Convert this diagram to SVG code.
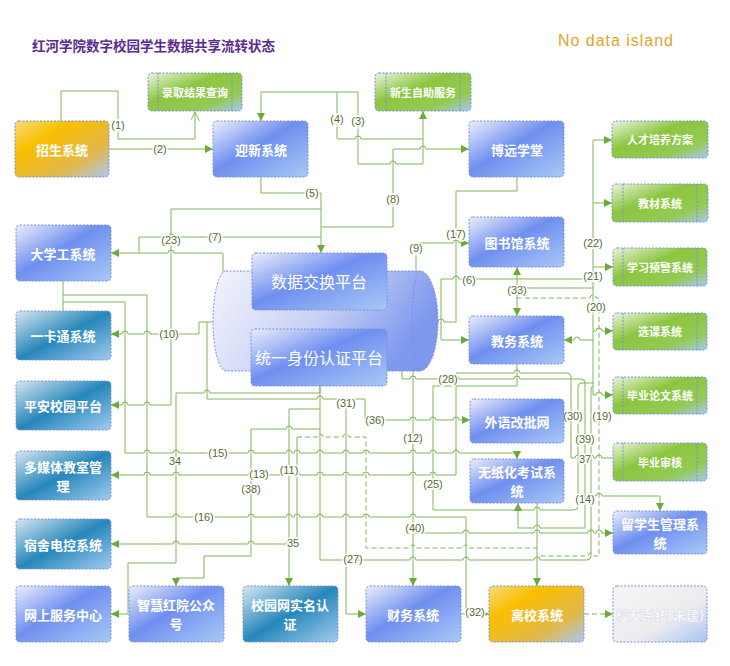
<svg xmlns="http://www.w3.org/2000/svg" width="730" height="666" viewBox="0 0 730 666">
<defs>
<linearGradient id="gBlue" x1="0" y1="0" x2="1" y2="1"><stop offset="0" stop-color="#eceefb"/><stop offset="0.45" stop-color="#6f8ff0"/><stop offset="1" stop-color="#a9c9f6"/></linearGradient>
<linearGradient id="gTeal" x1="0" y1="0" x2="1" y2="1"><stop offset="0" stop-color="#d6e7f1"/><stop offset="0.5" stop-color="#2687ba"/><stop offset="1" stop-color="#a2ccf0"/></linearGradient>
<linearGradient id="gYel" x1="0" y1="0" x2="1" y2="1"><stop offset="0" stop-color="#f6dc7a"/><stop offset="0.3" stop-color="#f9bf00"/><stop offset="0.7" stop-color="#e2b84a"/><stop offset="1" stop-color="#a8c8f0"/></linearGradient>
<linearGradient id="gGreen" x1="0" y1="0" x2="1" y2="1"><stop offset="0" stop-color="#eaf5de"/><stop offset="0.4" stop-color="#8cc63f"/><stop offset="0.75" stop-color="#92cb55"/><stop offset="1" stop-color="#a8c8f0"/></linearGradient>
<linearGradient id="gGrey" x1="0" y1="0" x2="1" y2="1"><stop offset="0" stop-color="#f6f6f6"/><stop offset="0.6" stop-color="#ececf0"/><stop offset="1" stop-color="#a8c4f4"/></linearGradient>
<linearGradient id="gCyl" x1="0" y1="0" x2="1" y2="0.3"><stop offset="0" stop-color="#f3f4fc"/><stop offset="0.55" stop-color="#c8d1f5"/><stop offset="1" stop-color="#7e98ee"/></linearGradient>
<marker id="a" viewBox="0 0 10 10" refX="10" refY="5" markerWidth="8" markerHeight="8" markerUnits="userSpaceOnUse" orient="auto-start-reverse"><path d="M0,0L10,5L0,10z" fill="#6aab3a"/></marker>
<marker id="o" viewBox="0 0 10 10" refX="10" refY="5" markerWidth="9" markerHeight="9" markerUnits="userSpaceOnUse" orient="auto"><path d="M0,0L10,5L0,10" fill="none" stroke="#82b55a" stroke-width="1"/></marker>
</defs>
<style>
.n{stroke:#7a8fd8;stroke-width:1;stroke-dasharray:2 1.5}
.il{stroke:#7a8fd8;stroke-width:1;stroke-dasharray:2 1.5;fill:none}
.t{fill:#fff;font-family:"Noto Sans CJK SC","Noto Sans",sans-serif;font-weight:bold;font-size:13px;text-anchor:middle;dominant-baseline:central}
.s{font-size:11px}
.big{font-size:16px;font-weight:normal}
.c{fill:none;stroke:#82b55a;stroke-width:1}
.d{fill:none;stroke:#82b55a;stroke-width:1;stroke-dasharray:5 3}
.ar{marker-end:url(#a)}
.l{fill:#556b2f;font-family:"Liberation Sans",Arial,sans-serif;font-size:11px;text-anchor:middle;dominant-baseline:central;stroke:#fff;stroke-width:3;paint-order:stroke}
</style>
<rect width="730" height="666" fill="#fff"/>
<text x="32" y="45" fill="#5b2c8f" font-family="Noto Sans CJK SC,sans-serif" font-weight="bold" font-size="13.5" dominant-baseline="central">红河学院数字校园学生数据共享流转状态</text>
<text x="558" y="40" fill="#e0a528" font-family="Liberation Sans,sans-serif" font-size="16" textLength="115" dominant-baseline="central">No data island</text>

<g id="connectors">
<path class="c" marker-end="url(#o)" d="M61,121V91H118V139H195V112"/>
<path class="c ar" d="M109,149H213"/>
<path class="c ar" d="M358,92V164H390a3,3 0 0 1 6,0H423V111"/>
<path class="c ar" d="M358,92H261V121"/>
<path class="c" d="M337,92V139H355a3,3 0 0 1 6,0H423"/>
<path class="c ar" d="M261,177V193H321V253"/>
<path class="c ar" d="M321,227H393V149H420a3,3 0 0 1 6,0H469"/>
<path class="c ar" d="M321,209H171V405H150a3,3 0 0 0 -6,0H128a3,3 0 0 0 -6,0H111"/>
<path class="c" d="M321,237H174a3,3 0 0 0 -6,0H139V253"/>
<path class="c ar" d="M251,357H223V253H174a3,3 0 0 0 -6,0H111"/>
<path class="c ar" d="M387,281H416V243H453a3,3 0 0 1 6,0H469"/>
<path class="c" d="M517,177V191H456V322H444a3,3 0 0 0 -6,0H427"/>
<path class="c ar" d="M593,279H459a3,3 0 0 0 -6,0H441V340H469"/>
<path class="c" d="M593,140V395"/>
<path class="c ar" d="M593,140H612"/>
<path class="c ar" d="M593,203H612"/>
<path class="c ar" d="M593,267H613"/>
<path class="c ar" d="M593,331H596a3,3 0 0 1 6,0H613"/>
<path class="c ar" d="M593,395H596a3,3 0 0 1 6,0H613"/>
<path class="c ar" d="M593,340H580a3,3 0 0 0 -6,0H564"/>
<path class="c ar" marker-start="url(#a)" d="M517,316V267"/>
<path class="c" d="M517,288H593"/>
<path class="d" d="M517,298H590a3,3 0 0 1 6,0H599V556H594a3,3 0 0 0 -6,0H537"/>
<path class="d" d="M297,437H317a3,3 0 0 1 6,0H343a3,3 0 0 1 6,0H366V548H410a3,3 0 0 1 6,0H463a3,3 0 0 1 6,0H537"/>
<path class="c ar" d="M213,322H199V334H174a3,3 0 0 0 -6,0H150a3,3 0 0 0 -6,0H128a3,3 0 0 0 -6,0H111"/>
<path class="c ar" d="M207,322V399H317a3,3 0 0 1 6,0H365V420H410a3,3 0 0 1 6,0H430a3,3 0 0 1 6,0H453a3,3 0 0 1 6,0H470"/>
<path class="c ar" d="M346,399V614H366"/>
<path class="c ar" d="M320,386V393H210a3,3 0 0 0 -6,0H176V563H128V614H111"/>
<path class="c ar" d="M320,429H292a3,3 0 0 0 -6,0H251V556H204V578H176V586"/>
<path class="c ar" d="M320,409H289V586"/>
<path class="c ar" d="M63,281V311M63,302H125V453H144a3,3 0 0 1 6,0H173a3,3 0 0 1 6,0H248a3,3 0 0 1 6,0H286a3,3 0 0 1 6,0H294a3,3 0 0 1 6,0H317a3,3 0 0 1 6,0H343a3,3 0 0 1 6,0H363a3,3 0 0 1 6,0H410a3,3 0 0 1 6,0H430a3,3 0 0 1 6,0H453a3,3 0 0 1 6,0H517V459"/>
<path class="c" d="M63,295H147V517H173a3,3 0 0 1 6,0H248a3,3 0 0 1 6,0H286a3,3 0 0 1 6,0H294a3,3 0 0 1 6,0H317a3,3 0 0 1 6,0H343a3,3 0 0 1 6,0H363a3,3 0 0 1 6,0H410a3,3 0 0 1 6,0H466V614"/>
<path class="c ar" d="M456,373V475H436a3,3 0 0 0 -6,0H416a3,3 0 0 0 -6,0H369a3,3 0 0 0 -6,0H349a3,3 0 0 0 -6,0H323a3,3 0 0 0 -6,0H300a3,3 0 0 0 -6,0H292a3,3 0 0 0 -6,0H254a3,3 0 0 0 -6,0H179a3,3 0 0 0 -6,0H150a3,3 0 0 0 -6,0H111"/>
<path class="c" d="M456,373H514a3,3 0 0 1 6,0H567q4,0 4,4V458H575a3,3 0 0 1 6,0H582a3,3 0 0 1 6,0H588a3,3 0 0 1 6,0H596a3,3 0 0 1 6,0H613"/>
<path class="c ar" d="M402,357V379H410a3,3 0 0 1 6,0H453a3,3 0 0 1 6,0H514a3,3 0 0 1 6,0H581q4,0 4,4V528H540a3,3 0 0 0 -6,0H518V503"/>
<path class="c" d="M517,364V386H433V510H515a3,3 0 0 1 6,0H534a3,3 0 0 1 6,0H574q4,0 4,-4V387q0,-4 4,-4H593"/>
<path class="c" d="M320,386V560H343a3,3 0 0 1 6,0H410a3,3 0 0 1 6,0H463a3,3 0 0 1 6,0H534a3,3 0 0 1 6,0H587q4,0 4,-4V390q0,-4 2,-4"/>
<path class="c ar" d="M591,496H596a3,3 0 0 1 6,0H660V511"/>
<path class="c ar" d="M413,533H463a3,3 0 0 1 6,0H534a3,3 0 0 1 6,0H588a3,3 0 0 1 6,0H596a3,3 0 0 1 6,0H613"/>
<path class="c ar" d="M297,437V544H292a3,3 0 0 0 -6,0H254a3,3 0 0 0 -6,0H179a3,3 0 0 0 -6,0H111"/>
<path class="c ar" marker-start="url(#a)" d="M413,586V357H387"/>
<path class="c ar" d="M461,614H489"/>
<path class="c ar" d="M537,503V586"/>
<path class="d ar" d="M584,614H613"/>
</g>

<g id="labels">
<text class="l" x="118" y="125">(1)</text>
<text class="l" x="160" y="149">(2)</text>
<text class="l" x="358" y="121">(3)</text>
<text class="l" x="337" y="119">(4)</text>
<text class="l" x="312" y="193">(5)</text>
<text class="l" x="469" y="280">(6)</text>
<text class="l" x="215" y="237">(7)</text>
<text class="l" x="393" y="199">(8)</text>
<text class="l" x="416" y="248">(9)</text>
<text class="l" x="169" y="334">(10)</text>
<text class="l" x="289" y="470">(11)</text>
<text class="l" x="413" y="438">(12)</text>
<text class="l" x="259" y="474">(13)</text>
<text class="l" x="585" y="499">(14)</text>
<text class="l" x="218" y="453">(15)</text>
<text class="l" x="204" y="517">(16)</text>
<text class="l" x="456" y="234">(17)</text>
<text class="l" x="602" y="416">(19)</text>
<text class="l" x="596" y="307">(20)</text>
<text class="l" x="593" y="276">(21)</text>
<text class="l" x="593" y="243">(22)</text>
<text class="l" x="171" y="240">(23)</text>
<text class="l" x="433" y="484">(25)</text>
<text class="l" x="353" y="559">(27)</text>
<text class="l" x="448" y="379">(28)</text>
<text class="l" x="573" y="416">(30)</text>
<text class="l" x="346" y="403">(31)</text>
<text class="l" x="475" y="612">(32)</text>
<text class="l" x="517" y="290">(33)</text>
<text class="l" x="175" y="461">34</text>
<text class="l" x="293" y="543">35</text>
<text class="l" x="375" y="420">(36)</text>
<text class="l" x="585" y="459">37</text>
<text class="l" x="251" y="489">(38)</text>
<text class="l" x="585" y="439">(39)</text>
<text class="l" x="415" y="528">(40)</text>
</g>

<g id="platform">
<path d="M226,271H420A18,50 0 0 1 420,371H226A13,50 0 0 1 226,271Z" fill="url(#gCyl)" class="n"/>
<path d="M420,271A8,50 0 0 0 420,371" class="il"/>
</g>
<g id="jiaohuan"><rect class="n" x="252" y="253" width="135" height="57" rx="4" fill="url(#gBlue)"/><text class="t big" x="319" y="281">数据交换平台</text></g>
<g id="tongyi"><rect class="n" x="251" y="329" width="136" height="57" rx="4" fill="url(#gBlue)"/><text class="t big" x="319" y="357">统一身份认证平台</text></g>

<g id="zhaosheng"><rect class="n" x="15" y="121" width="94" height="56" rx="4" fill="url(#gYel)"/><text class="t" x="62" y="149">招生系统</text></g>
<g id="luqu"><rect class="n" x="148" y="73" width="94" height="38" rx="4" fill="url(#gGreen)"/><path class="il" d="M158,73V111M232,73V111"/><text class="t s" x="195" y="92">录取结果查询</text></g>
<g id="yingxin"><rect class="n" x="213" y="121" width="95" height="56" rx="4" fill="url(#gBlue)"/><text class="t" x="261" y="149">迎新系统</text></g>
<g id="xinsheng"><rect class="n" x="375" y="73" width="96" height="38" rx="4" fill="url(#gGreen)"/><path class="il" d="M386,73V111M460,73V111"/><text class="t s" x="423" y="92">新生自助服务</text></g>
<g id="boyuan"><rect class="n" x="469" y="121" width="95" height="56" rx="4" fill="url(#gBlue)"/><text class="t" x="517" y="149">博远学堂</text></g>
<g id="rencai"><rect class="n" x="612" y="121" width="96" height="37" rx="4" fill="url(#gGreen)"/><text class="t s" x="660" y="139">人才培养方案</text></g>
<g id="jiaocai"><rect class="n" x="612" y="184" width="96" height="38" rx="4" fill="url(#gGreen)"/><path class="il" d="M623,184V222M697,184V222"/><text class="t s" x="660" y="203">教材系统</text></g>
<g id="yujing"><rect class="n" x="613" y="248" width="94" height="38" rx="4" fill="url(#gGreen)"/><path class="il" d="M623,248V286M697,248V286"/><text class="t s" x="660" y="267">学习预警系统</text></g>
<g id="xuanke"><rect class="n" x="613" y="313" width="94" height="37" rx="4" fill="url(#gGreen)"/><path class="il" d="M623,313V350M697,313V350"/><text class="t s" x="660" y="331">选课系统</text></g>
<g id="lunwen"><rect class="n" x="613" y="377" width="94" height="37" rx="4" fill="url(#gGreen)"/><path class="il" d="M623,377V414M697,377V414"/><text class="t s" x="660" y="395">毕业论文系统</text></g>
<g id="shenhe"><rect class="n" x="613" y="443" width="94" height="38" rx="4" fill="url(#gGreen)"/><path class="il" d="M623,443V481M697,443V481"/><text class="t s" x="660" y="462">毕业审核</text></g>
<g id="liuxuesheng"><rect class="n" x="613" y="511" width="94" height="43" rx="4" fill="url(#gBlue)"/><text class="t" x="660" y="523">留学生管理系</text><text class="t" x="660" y="542">统</text></g>
<g id="xiaoyou"><rect class="n" x="613" y="586" width="94" height="56" rx="4" fill="url(#gGrey)"/><text class="t" x="660" y="614" fill="#fafafa" style="stroke:#d4d6e0;stroke-width:0.4">校友系统(未建)</text></g>
<g id="lixiao"><rect class="n" x="489" y="586" width="95" height="56" rx="4" fill="url(#gYel)"/><text class="t" x="537" y="614">离校系统</text></g>
<g id="caiwu"><rect class="n" x="366" y="586" width="95" height="56" rx="4" fill="url(#gBlue)"/><text class="t" x="413" y="614">财务系统</text></g>
<g id="xiaoyuanwang"><rect class="n" x="243" y="586" width="95" height="56" rx="4" fill="url(#gTeal)"/><text class="t" x="290" y="604.5">校园网实名认</text><text class="t" x="290" y="623.5">证</text></g>
<g id="zhihui"><rect class="n" x="129" y="586" width="95" height="56" rx="4" fill="url(#gBlue)"/><text class="t" x="176" y="604.5">智慧红院公众</text><text class="t" x="176" y="623.5">号</text></g>
<g id="wangshang"><rect class="n" x="16" y="586" width="95" height="56" rx="4" fill="url(#gBlue)"/><text class="t" x="63" y="614">网上服务中心</text></g>
<g id="sushe"><rect class="n" x="16" y="519" width="95" height="50" rx="4" fill="url(#gTeal)"/><text class="t" x="63" y="544">宿舍电控系统</text></g>
<g id="duomeiti"><rect class="n" x="16" y="451" width="95" height="49" rx="4" fill="url(#gTeal)"/><text class="t" x="63" y="466">多媒体教室管</text><text class="t" x="63" y="485">理</text></g>
<g id="pingan"><rect class="n" x="16" y="381" width="95" height="49" rx="4" fill="url(#gTeal)"/><text class="t" x="63" y="405">平安校园平台</text></g>
<g id="yikatong"><rect class="n" x="16" y="311" width="95" height="49" rx="4" fill="url(#gTeal)"/><text class="t" x="63" y="335">一卡通系统</text></g>
<g id="daxuegong"><rect class="n" x="16" y="225" width="95" height="56" rx="4" fill="url(#gBlue)"/><text class="t" x="63" y="253">大学工系统</text></g>
<g id="tushuguan"><rect class="n" x="469" y="217" width="95" height="50" rx="4" fill="url(#gBlue)"/><text class="t" x="517" y="242">图书馆系统</text></g>
<g id="jiaowu"><rect class="n" x="469" y="316" width="95" height="48" rx="4" fill="url(#gBlue)"/><text class="t" x="517" y="340">教务系统</text></g>
<g id="waiyu"><rect class="n" x="470" y="399" width="94" height="44" rx="4" fill="url(#gBlue)"/><text class="t" x="517" y="421">外语改批网</text></g>
<g id="wuzhihua"><rect class="n" x="470" y="459" width="94" height="44" rx="4" fill="url(#gBlue)"/><text class="t" x="517" y="471.5">无纸化考试系</text><text class="t" x="517" y="490.5">统</text></g>
</svg>
